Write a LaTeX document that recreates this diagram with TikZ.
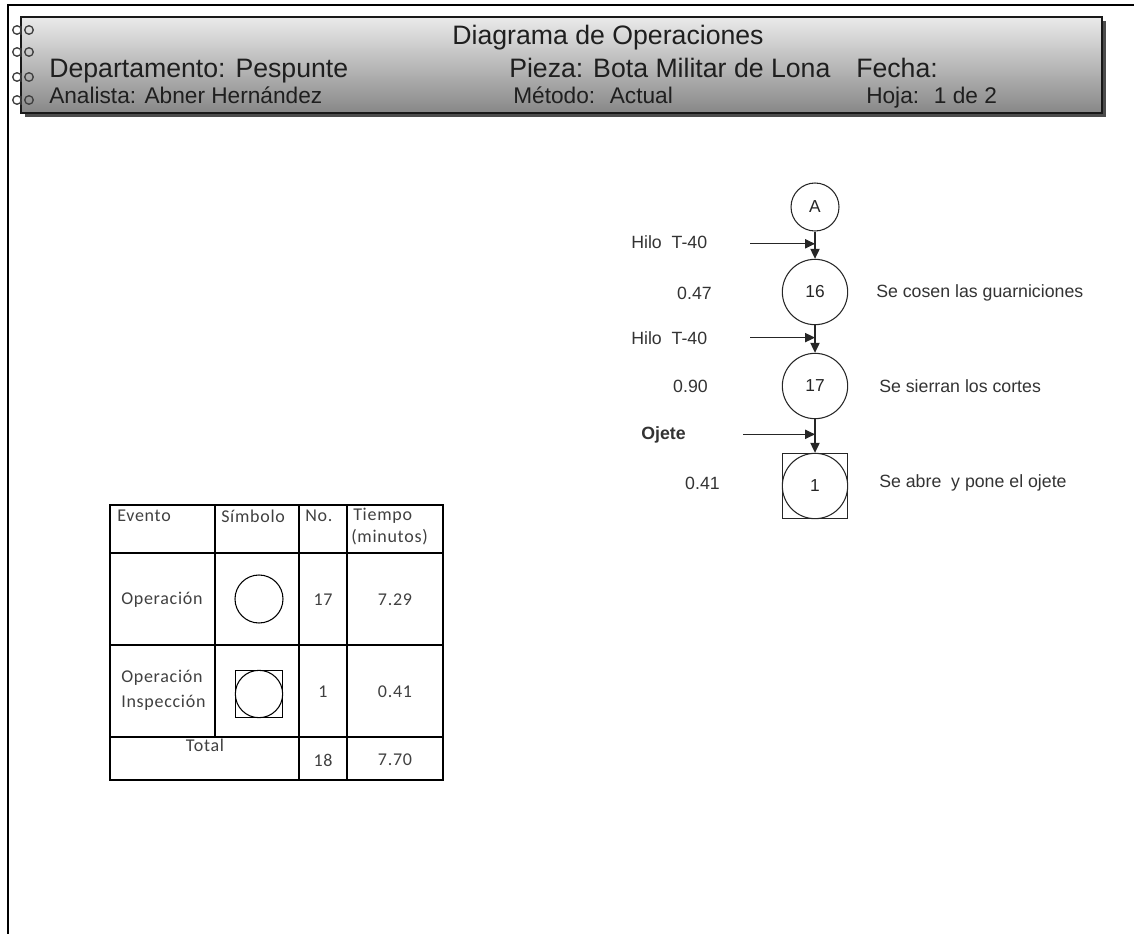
\documentclass[tikz,border=0pt]{standalone}
\usepackage{fontspec}
\setmainfont{Liberation Sans}
\newfontfamily\tablafont[LetterSpace=4]{Carlito}
\usetikzlibrary{arrows.meta,calc}

\tikzset{
	oper/.style={circle, draw=black!85, line width=0.8pt, minimum size=49pt, inner sep=0pt, text=black!85, font=\fontsize{13}{15}\selectfont},
	inspec/.style={rectangle, draw=black!85, line width=0.8pt, minimum size=49pt, inner sep=0pt},
	flecha/.style={draw=black!85, line width=0.8pt, -{Triangle[length=7.5pt,width=7pt]}},
	rotulo/.style={font=\fontsize{13.3}{16}\selectfont, text=black!80, inner sep=0pt},
	cab/.style={font=\fontsize{20}{24}\selectfont, text=black!88, inner sep=0pt},
	cabchica/.style={font=\fontsize{17}{20}\selectfont, text=black!88, inner sep=0pt},
	celda/.style={font=\tablafont\fontsize{13.5}{19}\selectfont, text=black!75, inner sep=0pt, align=left},
	tabla/.style={line width=1.2pt, black},
}

\begin{document}
\begin{tikzpicture}[x=0.75pt, y=-0.75pt]
	\useasboundingbox (0,0) rectangle (1134,934);
	% marco de la hoja
	\draw[line width=2pt] (8,934) -- (8,5) -- (1134,5);

	% encabezado con sombra y argollas
	\fill[black!70] (25,21) rectangle (1106,117);
	\shadedraw[top color=black!8, bottom color=black!47, draw=black!90, line width=1.5pt] (21,17) rectangle (1102,113);
	\foreach \y in {30,52,77,100} {\draw[black!75, line width=1pt] (17,\y) circle (3.2pt) (29,\y) circle (3.2pt) (21,\y-4) -- (21,\y+5);}
	\node[cab, anchor=base] (titulo) at (608,45) {Diagrama de Operaciones};
	\node[cab, anchor=base west] (depto) at (49,78) {Departamento: Pespunte};
	\node[cab, anchor=base west] (pieza) at (509,78) {Pieza: Bota Militar de Lona};
	\node[cab, anchor=base west] (fecha) at (856,78) {Fecha:};
	\node[cabchica, anchor=base west] (analista) at (49,104) {Analista: Abner Hernández};
	\node[cabchica, anchor=base west] (metodo) at (513,104) {Método:~ Actual};
	\node[cabchica, anchor=base west] (hoja) at (866,104) {Hoja:~ 1 de 2};

	% diagrama de operaciones
	\node[oper, minimum size=36pt] (A) at (815,207) {A};
	\node[oper] (op16) at (815,292) {16};
	\node[oper] (op17) at (815,386) {17};
	\node[oper] (op1) at (815,486) {1};
	\node[inspec] (caja1) at (op1) {};
	\draw[flecha] (A) -- (op16);
	\draw[flecha] (op16) -- (op17);
	\draw[flecha] (op17) -- (caja1);

	\coordinate (m1) at ($(A.south)!0.45!(op16.north)$);
	\coordinate (m2) at ($(op16.south)!0.45!(op17.north)$);
	\coordinate (m3) at ($(op17.south)!0.45!(caja1.north)$);
	\coordinate (e1) at ($(m1)+(-65,0)$);
	\coordinate (e2) at ($(m2)+(-65,0)$);
	\coordinate (e3) at ($(m3)+(-72,0)$);
	\draw[flecha] (e1) -- (m1);
	\draw[flecha] (e2) -- (m2);
	\draw[flecha] (e3) -- (m3);

	\node[rotulo, anchor=west] (hilo1) at (631,242) {Hilo~ T-40};
	\node[rotulo, anchor=west] (hilo2) at (631,338) {Hilo~ T-40};
	\node[rotulo, anchor=west, font=\fontsize{13.3}{16}\selectfont\bfseries] (ojete) at (641,435) {Ojete};
	\node[rotulo, anchor=east] (t16) at (712,293) {0.47};
	\node[rotulo, anchor=east] (t17) at (708,386) {0.90};
	\node[rotulo, anchor=east] (t1) at (720,483) {0.41};
	\node[rotulo, anchor=west] (d16) at (876,293) {Se cosen las guarniciones};
	\node[rotulo, anchor=west] (d17) at (879,386) {Se sierran los cortes};
	\node[rotulo, anchor=west] (d1) at (879,483) {Se abre~ y pone el ojete};

	% tabla resumen
	\draw[tabla] (110,505) rectangle (443,780);
	\draw[tabla] (110,553) -- (443,553) (110,645) -- (443,645) (110,737) -- (443,737);
	\draw[tabla] (215,505) -- (215,737) (299,505) -- (299,780) (347,505) -- (347,780);

	\node[celda, anchor=west] (evento) at (117,516) {Evento};
	\node[celda, anchor=west] (simbolo) at (221,516) {Símbolo};
	\node[celda, anchor=west] (numero) at (305,516) {No.};
	\node[celda, anchor=west] (tiempo) at (353,516) {Tiempo};
	\node[celda, anchor=west] (minutos) at (351,537) {(minutos)};

	\node[celda, anchor=west] (filaop) at (121,600) {Operación};
	\node[circle, draw=black, line width=0.8pt, minimum size=36pt, inner sep=0pt] (simbop) at (259,599) {};
	\node[celda] (nop) at (323,600) {17};
	\node[celda] (top) at (395,600) {7.29};

	\node[celda, anchor=west] (filaoi) at (121,690) {Operación\\Inspección};
	\node[rectangle, draw=black, line width=0.8pt, minimum size=35.5pt, inner sep=0pt] (simboi) at (259,694) {};
	\node[circle, draw=black, line width=0.8pt, minimum size=35.5pt, inner sep=0pt] (simboic) at (simboi) {};
	\node[celda] (noi) at (323,692) {1};
	\node[celda] (toi) at (395,692) {0.41};

	\node[celda] (total) at (205,745) {Total};
	\node[celda] (ntotal) at (323,760) {18};
	\node[celda] (ttotal) at (395,760) {7.70};
\end{tikzpicture}
\end{document}
